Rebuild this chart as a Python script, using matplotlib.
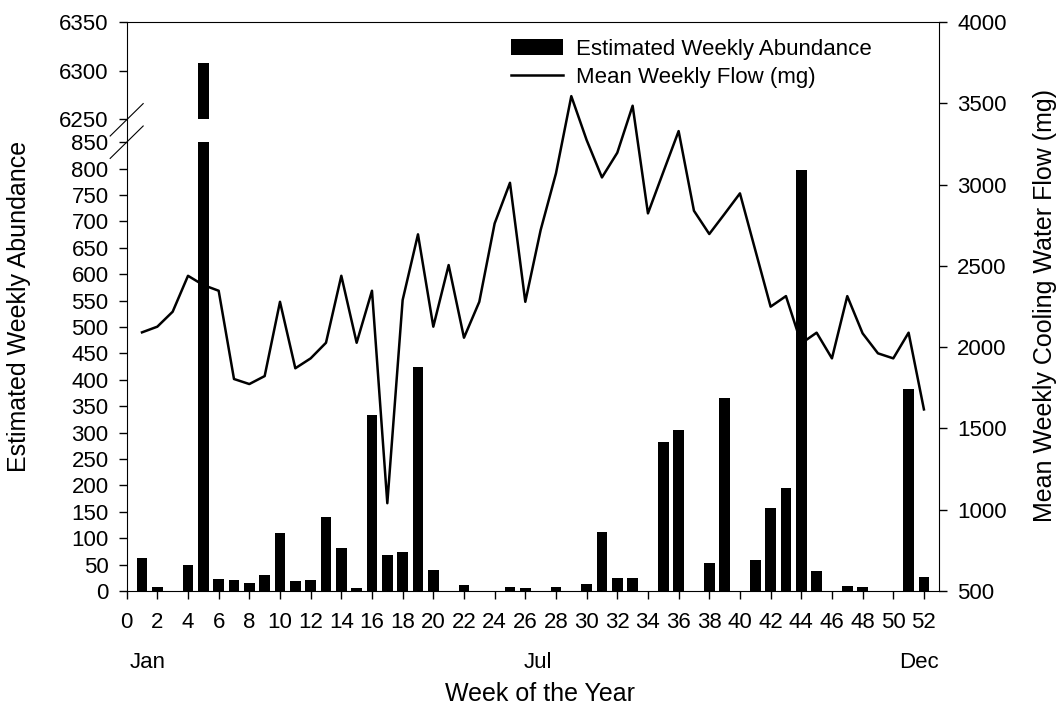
import numpy as np
import matplotlib.pyplot as plt
from matplotlib.lines import Line2D
import matplotlib.transforms as mtransforms

plt.rcParams['font.family'] = ['Liberation Sans', 'DejaVu Sans']

# weekly data
weeks = np.arange(1, 53)
abundance = [62, 7, 0, 49, 6308, 23, 20, 15, 30, 109,
             19, 21, 141, 82, 5, 333, 69, 73, 425, 40,
             0, 11, 0, 0, 8, 6, 0, 8, 0, 13,
             112, 25, 25, 0, 283, 305, 0, 53, 365, 0,
             58, 158, 195, 797, 38, 0, 9, 7, 0, 0,
             383, 26]
flow = [2091, 2126, 2218, 2439, 2382, 2347, 1804, 1773, 1822, 2279,
        1870, 1931, 2027, 2439, 2027, 2347, 1040, 2290, 2694, 2126,
        2505, 2058, 2279, 2761, 3011, 2279, 2720, 3069, 3544, 3274,
        3044, 3196, 3485, 2823, 3077, 3329, 2839, 2696, 2820, 2946,
        2597, 2249, 2314, 2023, 2089, 1931, 2314, 2085, 1962, 1931,
        2089, 1617]
xticks = np.arange(0, 53, 2)
month_labels = ['Jan', 'Jul', 'Dec']
month_pos = [1.4, 26.8, 51.7]

tick_size = 16
label_size = 18

fig = plt.figure(figsize=(10.6, 7.06), dpi=100)

x0, w = 0.1195, 0.7666
bottom = 0.1629
ax_low = fig.add_axes([x0, bottom, w, 0.6357])
ax_up = fig.add_axes([x0, 0.8312, w, 0.1376])
ax_r = fig.add_axes([x0, bottom, w, 0.8059])

# bars on both segments of the broken axis
bars = ax_low.bar(weeks, abundance, width=0.7, color='black')
ax_up.bar(weeks, abundance, width=0.7, color='black')

ax_low.set_ylim(0, 850)
ax_low.set_yticks(np.arange(0, 851, 50))
ax_up.set_ylim(6250, 6350)
ax_up.set_yticks([6250, 6300, 6350])
for ax in (ax_low, ax_up):
    ax.set_xlim(0, 53)
    ax.set_facecolor('none')
    for s in ('top', 'right', 'left'):
        ax.spines[s].set_visible(False)
    ax.tick_params(axis='y', direction='out', length=6, width=1, labelsize=tick_size, pad=7)
ax_up.spines['bottom'].set_visible(False)
ax_up.set_xticks([])
ax_low.set_xticks(xticks)
ax_low.tick_params(axis='x', direction='out', length=6, width=1, labelsize=tick_size, pad=9)

# flow line on right axis spanning full height
line, = ax_r.plot(weeks, flow, color='black', linewidth=1.8)
ax_r.set_xlim(0, 53)
ax_r.set_ylim(500, 4000)
ax_r.set_facecolor('none')
ax_r.spines['bottom'].set_visible(False)
ax_r.set_xticks([])
ax_r.yaxis.tick_right()
ax_r.set_yticks(np.arange(500, 4001, 500))
ax_r.tick_params(axis='y', direction='out', length=6, width=1, labelsize=tick_size, pad=7)

# break marks
fy1 = 1 - 119.8 / 706
fy2 = 1 - 142.2 / 706
dx, dy = 16.5 / 1060, 16.2 / 706
for fy in (fy1, fy2):
    fig.add_artist(Line2D([x0 - dx, x0 + dx], [fy - dy, fy + dy], color='black', linewidth=0.8))

# month labels
trans = mtransforms.blended_transform_factory(ax_low.transData, fig.transFigure)
for m, p in zip(month_labels, month_pos):
    ax_low.text(p, 1 - 662 / 706, m, transform=trans, ha='center', va='center', fontsize=tick_size)

fig.text(0.509, 1 - 694 / 706, 'Week of the Year', ha='center', va='center', fontsize=label_size)
fig.text(19 / 1060, 1 - 306 / 706, 'Estimated Weekly Abundance', rotation=90,
         ha='center', va='center', fontsize=label_size)
fig.text(1045 / 1060, 1 - 306 / 706, 'Mean Weekly Cooling Water Flow (mg)', rotation=90,
         ha='center', va='center', fontsize=label_size)

fig.legend([bars, line], ['Estimated Weekly Abundance', 'Mean Weekly Flow (mg)'],
           loc='upper left', bbox_to_anchor=(511 / 1060, 1 - 39 / 706), frameon=False,
           fontsize=tick_size, handlelength=2.34, handletextpad=0.59, labelspacing=0.3,
           borderpad=0, borderaxespad=0)

fig.savefig('out.png', dpi=100)
